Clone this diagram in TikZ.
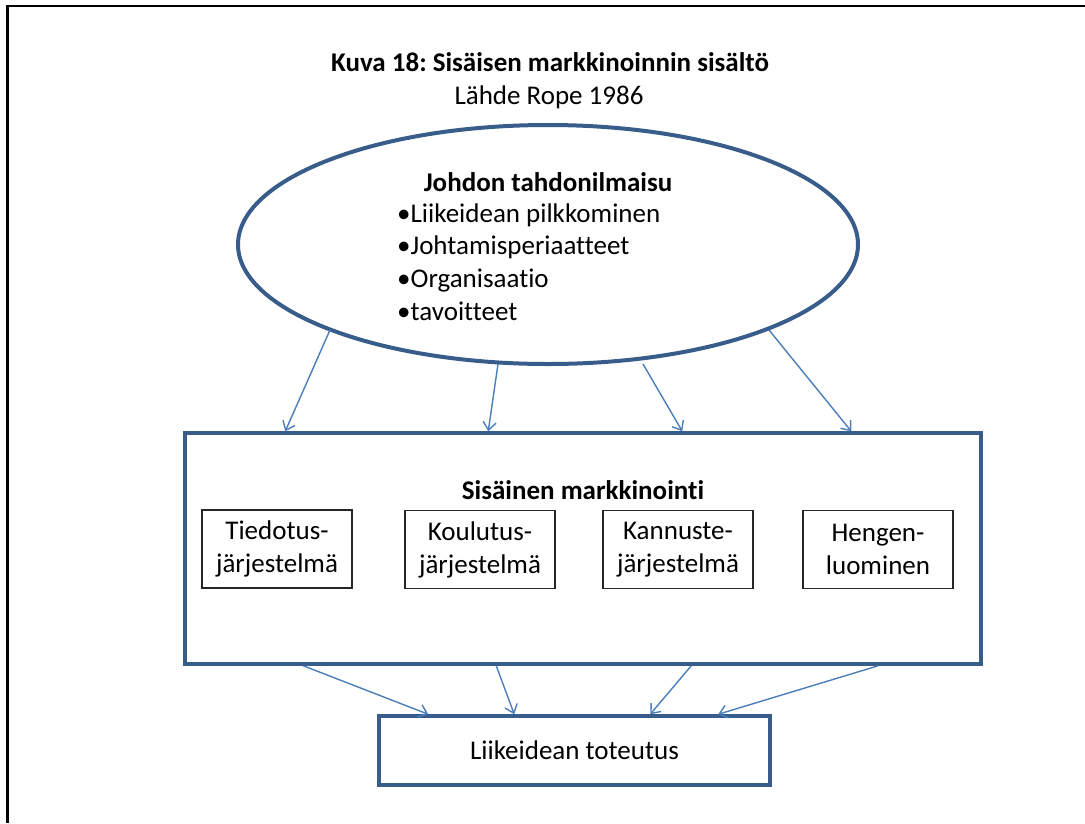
\documentclass[tikz,border=0pt]{standalone}
\usepackage{fontspec}
\setmainfont{Carlito}[Ligatures=NoCommon]
\usetikzlibrary{shapes.geometric,arrows.meta,calc}
\definecolor{frameblue}{HTML}{385D8A}
\definecolor{arrowblue}{HTML}{4A7EBB}
\frenchspacing
\begin{document}
\begin{tikzpicture}[x=1pt,y=-1pt,
  every node/.style={font=\fontsize{27}{33}\selectfont, inner sep=0pt},
  heavy/.style={draw=frameblue, line width=3.5pt},
  subbox/.style={draw=black!85, line width=1.2pt, minimum width=150pt, minimum height=78pt, align=center},
  arr/.style={draw=arrowblue, line width=1.4pt, -{Straight Barb[length=8pt,width=13pt]}}]
\useasboundingbox (0,0) rectangle (1085,823);

% page frame
\draw[line width=2.2pt] (7.5,823) -- (7.5,6) -- (1085,6);

% heading
\node[font=\fontsize{27}{33}\selectfont\bfseries] (title) at (550,62) {Kuva 18: Sisäisen markkinoinnin sisältö};
\node (source) at (549,97) {Lähde Rope 1986};

% management ellipse
\node[ellipse, heavy, draw=frameblue, line width=4pt, minimum width=620pt, minimum height=239pt] (ell) at (548,244.5) {};
\node[font=\fontsize{27}{33}\selectfont\bfseries] (ellhead) at (548,182) {Johdon tahdonilmaisu};
\node[anchor=west, align=left, font=\fontsize{27}{32.7}\selectfont] (bullets) at (397,262)
  {•Liikeidean pilkkominen\\•Johtamisperiaatteet\\•Organisaatio\\•tavoitteet};

% internal marketing block
\node[heavy, minimum width=796pt, minimum height=231pt] (sm) at (583,548.5) {};
\node[font=\fontsize{27}{33}\selectfont\bfseries] (smhead) at (583,490) {Sisäinen markkinointi};
\node[subbox] (b1) at (277,549) {Tiedotus-\\järjestelmä};
\node[subbox] (b2) at (480,549.5) {Koulutus-\\järjestelmä};
\node[subbox] (b3) at (678,549.5) {Kannuste-\\järjestelmä};
\node[subbox] (b4) at (878,549.5) {Hengen-\\luominen};

% outcome
\node[heavy, minimum width=391pt, minimum height=69pt] (out) at (574.5,750.5) {Liikeidean toteutus};

% ellipse -> internal marketing
\draw[arr] ($(ell.center)+(-218,85.5)$) -- ($(sm.north west)+(102,0)$);
\draw[arr] ($(ell.center)+(-50,119.5)$) -- ($(sm.north west)+(305,0)$);
\draw[arr] ($(ell.center)+(95,119.5)$) -- ($(sm.north west)+(499,0)$);
\draw[arr] ($(ell.center)+(221,85.5)$) -- ($(sm.north west)+(668,0)$);

% internal marketing -> outcome
\draw[arr] ($(sm.south west)+(120,0)$) -- ($(out.north west)+(51,0)$);
\draw[arr] ($(sm.south west)+(313,0)$) -- ($(out.north west)+(137,0)$);
\draw[arr] ($(sm.south west)+(508,0)$) -- ($(out.north west)+(273,0)$);
\draw[arr] ($(sm.south west)+(695,0)$) -- ($(out.north west)+(341,0)$);
\end{tikzpicture}
\end{document}
